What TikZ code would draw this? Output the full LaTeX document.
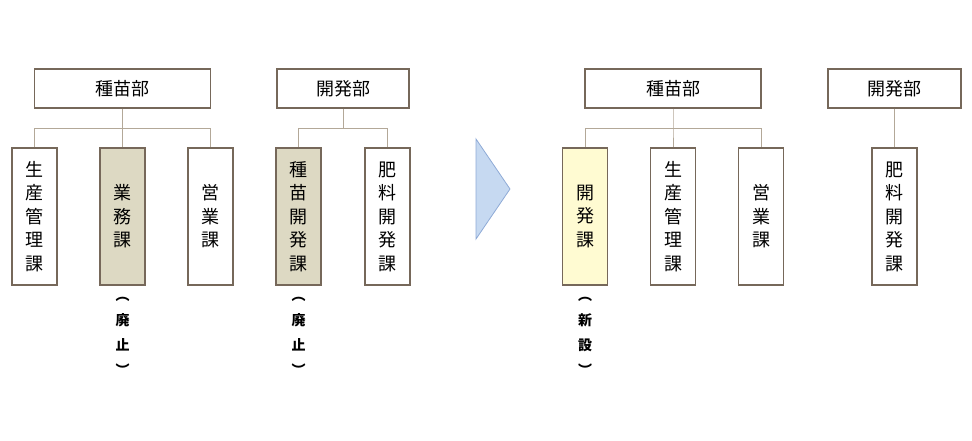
\documentclass[tikz,border=0pt]{standalone}
\usepackage{fontspec}
\newfontfamily\cjk{Noto Sans CJK JP}
\usetikzlibrary{shapes,arrows}
\definecolor{boxedge}{HTML}{76685A}
\definecolor{linkgray}{HTML}{B3A898}
\definecolor{tanfill}{HTML}{DDD9C3}
\definecolor{newfill}{HTML}{FFFBD2}
\definecolor{arrowfill}{HTML}{C6D9F1}
\definecolor{arrowedge}{HTML}{8EAAD6}
\tikzstyle{bu} = [draw=boxedge, rectangle, line width=1.1pt, minimum width=176pt, minimum height=39pt, font=\cjk\fontsize{18}{22}\selectfont]
\tikzstyle{ka} = [draw=boxedge, rectangle, line width=1.1pt, minimum width=45pt, minimum height=137pt, inner sep=0pt, align=center, font=\cjk\fontsize{18}{23.5}\selectfont]
\tikzstyle{haishi} = [fill=tanfill]
\tikzstyle{shinsetsu} = [fill=newfill]
\tikzstyle{note} = [align=center, inner sep=0pt, font=\cjk\bfseries\fontsize{14}{25}\selectfont]
\tikzstyle{link} = [draw=linkgray, line width=1pt]

\begin{document}
\begin{tikzpicture}[x=1pt,y=1pt,node distance=88pt]
	\useasboundingbox (0,0) rectangle (972,-441);

	% before: the sections of both departments
	\node [ka] (ka1) at (34.5,-216.5) {生\\産\\管\\理\\課};
	\node [ka,haishi,right of=ka1] (ka2) {業\\務\\課};
	\node [ka,right of=ka2] (ka3) {営\\業\\課};
	\node [ka,haishi,right of=ka3] (ka4) {種\\苗\\開\\発\\課};
	\node [ka,right of=ka4,node distance=89pt] (ka5) {肥\\料\\開\\発\\課};
	\node [bu,above of=ka2,node distance=128pt] (bu1) {種苗部};
	\node [bu,minimum width=132pt] (bu2) at (343,-88.5) {開発部};

	% before: tree lines
	\node[coordinate,below of=bu1,node distance=40.5pt,name=p1] {};
	\node[coordinate,below of=bu2,node distance=40.5pt,name=p2] {};
	\draw [link] (bu1) -- (p1) -- (ka2);
	\draw [link] (p1) -| (ka1);
	\draw [link] (p1) -| (ka3);
	\draw [link] (bu2) -- (p2);
	\draw [link] (p2) -| (ka4);
	\draw [link] (p2) -| (ka5);

	% notes under the closed sections
	\node [note,below of=ka2,node distance=120pt] (n1) {︵\\廃\\止\\︶};
	\node [note,below of=ka4,node distance=120pt] (n2) {︵\\廃\\止\\︶};

	% the arrow between the two charts
	\draw [fill=arrowfill,draw=arrowedge,line width=0.8pt] (476,-139) -- (510,-189) -- (476,-239) -- cycle;

	% after: the new sections
	\node [ka,shinsetsu] (ka6) at (585,-216.5) {開\\発\\課};
	\node [ka,right of=ka6] (ka7) {生\\産\\管\\理\\課};
	\node [ka,right of=ka7] (ka8) {営\\業\\課};
	\node [ka,right of=ka8,node distance=133.5pt] (ka9) {肥\\料\\開\\発\\課};
	\node [bu,above of=ka7,node distance=128pt] (bu3) {種苗部};
	\node [bu,minimum width=133pt,above of=ka9,node distance=128pt] (bu4) {開発部};

	% after: tree lines
	\node[coordinate,below of=bu3,node distance=40.5pt,name=p3] {};
	\draw [link] (bu3) -- (p3) -- (ka7);
	\draw [link] (p3) -| (ka6);
	\draw [link] (p3) -| (ka8);
	\draw [link] (bu4) -- (ka9);

	% note under the new section
	\node [note,below of=ka6,node distance=120pt] (n3) {︵\\新\\設\\︶};
\end{tikzpicture}
\end{document}
